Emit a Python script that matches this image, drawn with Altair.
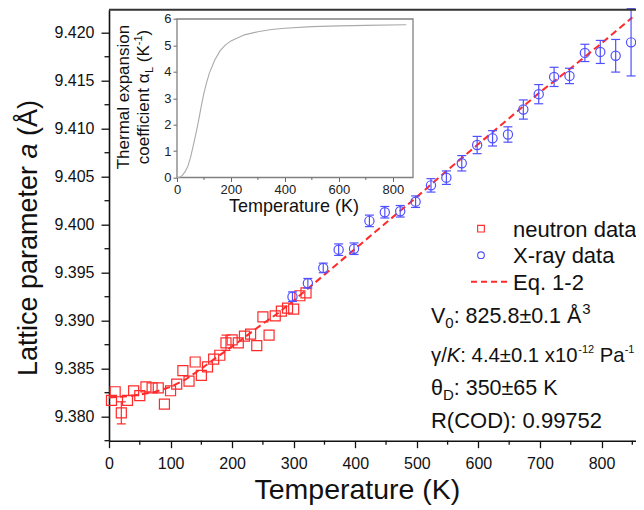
import altair as alt
import pandas as pd

FONT = "Liberation Sans"
RED = "#ff2a2a"
BLUE = "#5050ff"
INK = "#111111"

# ---------------- data ----------------
neutron_T = [4, 10, 20, 30, 40, 50, 60, 70, 80, 90, 100, 110, 120, 130, 140, 150, 160,
             170, 180, 190, 200, 210, 220, 230, 240, 250, 260, 270, 280, 290, 300, 310, 320]
neutron_a = [9.3817, 9.3826, 9.3804, 9.3817, 9.3827, 9.3822, 9.3831, 9.3830, 9.3830, 9.3813,
             9.3827, 9.3834, 9.3848, 9.3837, 9.3857, 9.3843, 9.3852, 9.3860, 9.3864, 9.3877,
             9.3880, 9.3877, 9.3884, 9.3886, 9.3874, 9.3904, 9.3885, 9.3905, 9.3910, 9.3913,
             9.3912, 9.3926, 9.3929]
neutron_err = [0.0003, 0.0003, 0.00115, 0.0003, 0.0003, 0.0003, 0.0003, 0.0003, 0.0003, 0.0003,
               0.0003, 0.0003, 0.0003, 0.0003, 0.0003, 0.0003, 0.0003, 0.0003, 0.0003, 0.0008,
               0.0003, 0.0003, 0.0003, 0.0003, 0.0003, 0.0003, 0.0003, 0.0003, 0.0003, 0.0003,
               0.0003, 0.0003, 0.0003]

xray_T = [298, 323, 348, 373, 398, 423, 448, 473, 498, 523, 548, 573, 598, 623, 648, 673,
          698, 723, 748, 773, 798, 823, 848]
xray_a = [9.3925, 9.3939, 9.3955, 9.3974, 9.3975, 9.4004, 9.4013, 9.4014, 9.4024, 9.4041,
          9.4049, 9.4064, 9.4083, 9.4090, 9.4094, 9.4120, 9.4136, 9.4154, 9.4155, 9.4179,
          9.4180, 9.4176, 9.4190]
xray_err = [0.0005, 0.0005, 0.0005, 0.0006, 0.0006, 0.0006, 0.0006, 0.0006, 0.0006, 0.0007,
            0.0007, 0.0008, 0.0009, 0.0008, 0.0008, 0.0010, 0.0010, 0.0010, 0.0008, 0.0009,
            0.0012, 0.0017, 0.0035]

fit_T = [0, 25, 50, 75, 100, 125, 150, 175, 200, 225, 250, 275, 300, 350, 400, 450, 500,
         550, 600, 650, 700, 750, 800, 850]
fit_a = [9.3820, 9.3821, 9.3823, 9.3826, 9.3831, 9.3839, 9.3850, 9.3862, 9.3873, 9.3885,
         9.3897, 9.3908, 9.3921, 9.3948, 9.3975, 9.4002, 9.4029, 9.4057, 9.4084, 9.4111,
         9.4138, 9.4163, 9.4189, 9.4216]

inset_T = [0, 10, 20, 30, 40, 50, 60, 70, 80, 90, 100, 110, 120, 140, 160, 180, 200, 250,
           300, 350, 400, 500, 600, 700, 850]
inset_alpha = [0.0, 0.01, 0.08, 0.22, 0.42, 0.75, 1.2, 1.65, 2.15, 2.7, 3.2, 3.6, 3.95, 4.45,
               4.8, 5.02, 5.17, 5.4, 5.52, 5.6, 5.65, 5.71, 5.74, 5.76, 5.78]

x_major = [0, 100, 200, 300, 400, 500, 600, 700, 800]
x_minor = [50, 150, 250, 350, 450, 550, 650, 750, 850]
y_major = [9.380, 9.385, 9.390, 9.395, 9.400, 9.405, 9.410, 9.415, 9.420]
y_minor = [9.3775, 9.3825, 9.3875, 9.3925, 9.3975, 9.4025, 9.4075, 9.4125, 9.4175]
inset_x_major = [0, 200, 400, 600, 800]
inset_x_minor = [100, 300, 500, 700]
inset_y_major = [0, 1, 2, 3, 4, 5, 6]

# ---------------- geometry ----------------
W, H = 527, 431
XDOM = [0, 856]
YDOM = [9.3775, 9.4224]
IN_X = [68, 304]
IN_Y = [167.8, 9.3]
IN_XDOM = [0, 875]
IN_YDOM = [0, 6]

neutron = pd.DataFrame({"T": neutron_T, "a": neutron_a, "e": neutron_err})
neutron["lo"] = neutron["a"] - neutron["e"]
neutron["hi"] = neutron["a"] + neutron["e"]
xray = pd.DataFrame({"T": xray_T, "a": xray_a, "e": xray_err})
xray["lo"] = xray["a"] - xray["e"]
xray["hi"] = xray["a"] + xray["e"]
fit = pd.DataFrame({"T": fit_T, "a": fit_a})
inset_df = pd.DataFrame({"T": inset_T, "alpha": inset_alpha})
one = pd.DataFrame({"k": [0]})

xs = alt.Scale(domain=XDOM, nice=False, zero=False)
ys = alt.Scale(domain=YDOM, nice=False, zero=False)

x_axis = alt.Axis(
    values=x_major, format="d", tickSize=7,
    tickWidth=1.3, tickColor=INK, domainColor=INK, domainWidth=1.6,
    labelFont=FONT, labelFontSize=16, labelColor=INK, labelPadding=8,
    labelOverlap=False, labelFlush=False, grid=False, title=None,
)
y_axis = alt.Axis(
    values=y_major, format=".3f", tickSize=8,
    tickWidth=1.3, tickColor=INK, domainColor=INK, domainWidth=1.6,
    labelFont=FONT, labelFontSize=16, labelColor=INK, labelPadding=7,
    labelOverlap=False, grid=False, title=None,
)

# ---------------- text helpers ----------------
CW = {' ': .278, '(': .333, ')': .333, '-': .333, '.': .278, '/': .278, ':': .278,
      '±': .584, 'x': .5, 'Å': .667, 'A': .667, 'V': .667, 'K': .667, 'P': .667,
      'R': .722, 'C': .722, 'O': .778, 'D': .722, 'γ': .5, 'θ': .556, 'L': .556,
      'α': .578, 'T': .611, 'h': .556, 'e': .556, 'r': .333, 'm': .833, 'l': .222,
      'p': .556, 'n': .556, 's': .5, 'i': .222, 'o': .556, 'c': .5, 'f': .278,
      't': .278, 'u': .556, 'a': .556, 'd': .556, 'y': .5, 'X': .667, 'E': .667, 'q': .556}


def tw(s, size):
    return sum(CW.get(c, .556) for c in s) * size


def segments(x0, y0, parts, angle=0, color=INK, center=False):
    total = sum(tw(p[0], p[1]) for p in parts)
    pos = -total / 2 if center else 0
    out = []
    for text, size, shift, style in parts:
        lead = len(text) - len(text.lstrip(' '))
        trail = len(text) - len(text.rstrip(' '))
        pos += tw(' ' * lead, size)
        t = text.strip(' ')
        if angle == 0:
            x, y = x0 + pos, y0 + shift
        else:
            x, y = x0 + shift, y0 - pos
        out.append(
            alt.Chart(one).mark_text(
                text=t, font=FONT, fontSize=size, fontStyle=style, color=color,
                align="left", baseline="alphabetic", angle=angle,
            ).encode(x=alt.value(x), y=alt.value(y))
        )
        pos += tw(t, size) + tw(' ' * trail, size)
    return out


# ---------------- main panel ----------------
fit_line = alt.Chart(fit).mark_line(color=RED, strokeWidth=2, strokeDash=[7, 4]).encode(
    x=alt.X("T:Q", scale=xs, axis=x_axis),
    y=alt.Y("a:Q", scale=ys, axis=y_axis),
)


def errbars(df, color, min_err):
    base = alt.Chart(df).transform_filter(f"datum.e >= {min_err}")
    bar = base.mark_rule(color=color, strokeWidth=1.2).encode(
        x=alt.X("T:Q", scale=xs, axis=None), y=alt.Y("lo:Q", scale=ys, axis=None), y2="hi:Q")
    cap_hi = base.mark_rule(color=color, strokeWidth=1.2, xOffset=-4.5, x2Offset=4.5).encode(
        x=alt.X("T:Q", scale=xs, axis=None), x2="T:Q", y=alt.Y("hi:Q", scale=ys, axis=None))
    cap_lo = base.mark_rule(color=color, strokeWidth=1.2, xOffset=-4.5, x2Offset=4.5).encode(
        x=alt.X("T:Q", scale=xs, axis=None), x2="T:Q", y=alt.Y("lo:Q", scale=ys, axis=None))
    return [bar, cap_hi, cap_lo]


n_pts = alt.Chart(neutron).mark_point(shape="square", filled=False, size=100, color=RED,
                                      strokeWidth=1.2, opacity=1).encode(
    x=alt.X("T:Q", scale=xs, axis=None), y=alt.Y("a:Q", scale=ys, axis=None))
x_pts = alt.Chart(xray).mark_point(shape="circle", filled=False, size=85, color=BLUE,
                                   strokeWidth=1.2, opacity=1).encode(
    x=alt.X("T:Q", scale=xs, axis=None), y=alt.Y("a:Q", scale=ys, axis=None))

xminor = alt.Chart(pd.DataFrame({"T": x_minor})).mark_rule(color=INK, strokeWidth=1.3).encode(
    x=alt.X("T:Q", scale=xs, axis=None), y=alt.value(H), y2=alt.value(H + 4))
yminor = alt.Chart(pd.DataFrame({"a": y_minor})).mark_rule(color=INK, strokeWidth=1.3).encode(
    y=alt.Y("a:Q", scale=ys, axis=None), x=alt.value(0), x2=alt.value(-4.5))

top_border = alt.Chart(one).mark_rule(color="#333333", strokeWidth=2).encode(
    x=alt.value(0), x2=alt.value(W), y=alt.value(0))

# legend
leg = [
    alt.Chart(one).mark_point(shape="square", filled=False, size=45, color=RED, strokeWidth=1.1,
                              opacity=1).encode(x=alt.value(372), y=alt.value(219)),
    alt.Chart(one).mark_point(shape="circle", filled=False, size=45, color=BLUE, strokeWidth=1.1,
                              opacity=1).encode(x=alt.value(372), y=alt.value(245.5)),
    alt.Chart(one).mark_rule(color=RED, strokeWidth=2, strokeDash=[6, 4]).encode(
        x=alt.value(362), x2=alt.value(400), y=alt.value(272)),
]
leg += segments(404, 227, [("neutron data", 22, 0, "normal")])
leg += segments(404, 253.5, [("X-ray data", 22, 0, "normal")])
leg += segments(404, 280, [("Eq. 1-2", 22, 0, "normal")])

ann = []
ann += segments(322, 313.3, [("V", 21.5, 0, "normal"), ("0", 15, 5, "normal"),
                             (": 825.8±0.1 Å", 21.5, 0, "normal"), ("3", 15, -9, "normal")])
ann += segments(322, 352.3, [("γ/", 20.3, 0, "normal"), ("K", 20.3, 0, "italic"),
                             (": 4.4±0.1 x10", 20.3, 0, "normal"), ("-12", 11, -9, "normal"),
                             (" Pa", 20.3, 0, "normal"), ("-1", 11, -9, "normal")])
ann += segments(322, 385.3, [("θ", 21.5, 0, "normal"), ("D", 15, 5, "normal"),
                             (": 350±65 K", 21.5, 0, "normal")])
ann += segments(322, 418.3, [("R(COD): 0.99752", 22, 0, "normal")])

ytitle = segments(-71.8, 228.3, [("Lattice parameter ", 27, 0, "normal"), ("a", 27, 0, "italic"),
                                 (" (Å)", 27, 0, "normal")], angle=270, center=True)
xtitle = segments(250, 489.5, [("Temperature (K)", 28.5, 0, "normal")], center=True)

# ---------------- inset ----------------
ixs = alt.Scale(domain=IN_XDOM, range=IN_X, nice=False, zero=False)
iys = alt.Scale(domain=IN_YDOM, range=IN_Y, nice=False, zero=False)

ix_axis = alt.Axis(
    orient="bottom", offset=IN_Y[0] - H, values=inset_x_major, format="d",
    tickSize=4, tickColor="#666666", tickWidth=1, domain=False, grid=False,
    labelFont=FONT, labelFontSize=13, labelColor="#222222", labelPadding=2,
    labelOverlap=False, labelFlush=False, title=None,
)
iy_axis = alt.Axis(
    orient="left", offset=-IN_X[0], values=inset_y_major, format="d",
    tickSize=4, tickColor="#666666", tickWidth=1, domain=False, grid=False,
    labelFont=FONT, labelFontSize=13, labelColor="#222222", labelPadding=2,
    labelOverlap=False, title=None,
)

frame = alt.Chart(one).mark_rect(fill="white", stroke="#808080", strokeWidth=1.3).encode(
    x=alt.X(datum=IN_XDOM[0], scale=ixs, axis=None), x2=alt.X2(datum=IN_XDOM[1]),
    y=alt.Y(datum=IN_YDOM[0], scale=iys, axis=None), y2=alt.Y2(datum=IN_YDOM[1]))
curve = alt.Chart(inset_df).mark_line(color="#aaaaaa", strokeWidth=1.1).encode(
    x=alt.X("T:Q", scale=ixs, axis=ix_axis),
    y=alt.Y("alpha:Q", scale=iys, axis=iy_axis))
iminor = alt.Chart(pd.DataFrame({"T": inset_x_minor})).mark_rule(color="#666666", strokeWidth=1).encode(
    x=alt.X("T:Q", scale=ixs, axis=None), y=alt.value(IN_Y[0]), y2=alt.value(IN_Y[0] + 2.5))

ititle = []
ititle += segments(20.4, 87.3, [("Thermal expansion", 17, 0, "normal")], angle=270, center=True)
ititle += segments(39.7, 87.3, [("coefficient α", 17, 0, "normal"), ("L", 11, 4, "normal"),
                                (" (K", 17, 0, "normal"), ("-1", 11, -7, "normal"),
                                (")", 17, 0, "normal")], angle=270, center=True)
ititle += segments(186, 202.5, [("Temperature (K)", 18, 0, "normal")], center=True)

layers = [fit_line, xminor, yminor, *errbars(neutron, RED, 0.0005), n_pts,
          *errbars(xray, BLUE, 0.0001), x_pts, top_border, *leg, *ann, *ytitle, *xtitle,
          frame, curve, iminor, *ititle]

chart = alt.layer(*layers).resolve_scale(x="independent", y="independent").properties(
    width=W, height=H,
    padding={"left": 101, "top": 1.7, "right": 0, "bottom": 66},
    autosize=alt.AutoSizeParams(type="none"),
    background="white",
).configure_view(stroke=None)

chart.save("out.html", embed_options={"renderer": "svg", "actions": False})
